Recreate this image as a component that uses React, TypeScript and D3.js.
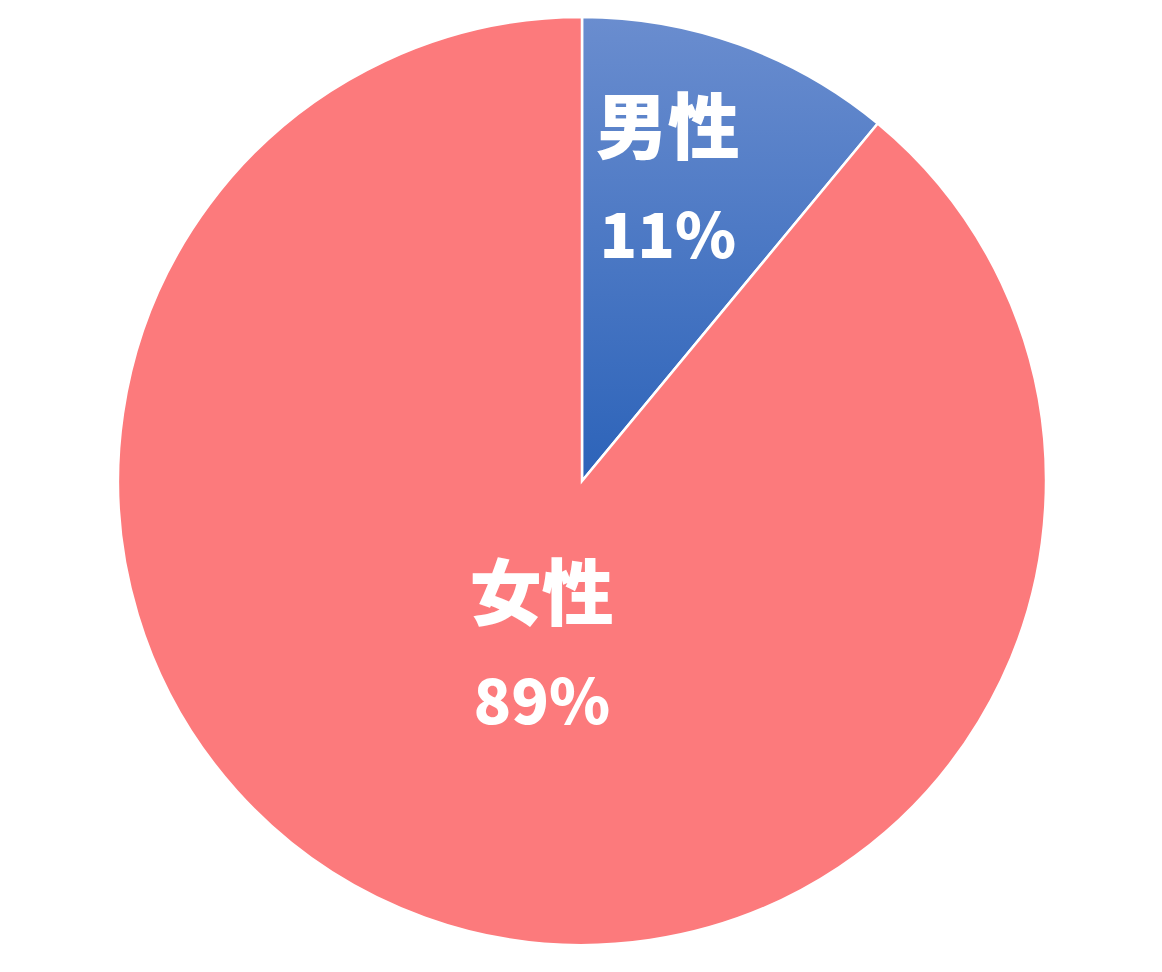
import * as d3 from 'd3'
import React, { useEffect, useRef } from "react";

const labels = ['男性', '女性'];
const shares = [11, 89];

const App: React.FC = () => {
    const ref = useRef<SVGSVGElement>(null);

    useEffect(() => {
        if (!ref.current) return;
        const width = 1162;
        const height = 972;
        const cx = 582;
        const cy = 481;
        const r = 464;

        const root = d3.select(ref.current)
            .attr('width', width)
            .attr('height', height);
        root.selectAll('*').remove();

        // gradient coords are in the slice's own (translated) space
        const defs = root.append('defs');
        const grad = defs.append('linearGradient')
            .attr('id', 'maleGrad')
            .attr('gradientUnits', 'userSpaceOnUse')
            .attr('x1', 0).attr('y1', -r)
            .attr('x2', 0).attr('y2', 0);
        grad.append('stop').attr('offset', '0%').attr('stop-color', '#6a8dcf');
        grad.append('stop').attr('offset', '100%').attr('stop-color', '#2c63b9');

        const colors = ['url(#maleGrad)', '#fc7a7c'];

        const svg = root.append('g')
            .attr('transform', `translate(${cx}, ${cy})`);

        const pie = d3.pie<number>().sort(null).value(d => d);
        const arcs = pie(shares);
        const arc = d3.arc<d3.PieArcDatum<number>>().innerRadius(0).outerRadius(r);

        svg.selectAll('path.slice')
            .data(arcs)
            .join('path')
            .attr('class', 'slice')
            .attr('d', arc)
            .attr('fill', (_, i) => colors[i])
            .attr('stroke', '#ffffff')
            .attr('stroke-width', 2.5);

        // label spots, tuned by eye
        const labelRadius = [0.66, 0.37];
        const labelShift = [[-18, -4], [18, 12]];
        arcs.forEach((a, i) => {
            const lr = labelRadius[i] * r;
            const la = d3.arc<d3.PieArcDatum<number>>().innerRadius(lr).outerRadius(lr);
            const [x, y] = la.centroid(a);
            const g = svg.append('g')
                .attr('transform', `translate(${x + labelShift[i][0]}, ${y + labelShift[i][1]})`);
            g.append('text')
                .attr('y', -36)
                .attr('text-anchor', 'middle')
                .attr('font-family', '"Noto Sans CJK JP", sans-serif')
                .attr('font-weight', 900)
                .attr('font-size', 72)
                .attr('fill', '#ffffff')
                .text(labels[i]);
            g.append('text')
                .attr('y', 69)
                .attr('text-anchor', 'middle')
                .attr('font-family', '"Noto Sans CJK JP", sans-serif')
                .attr('font-weight', 900)
                .attr('font-size', 62)
                .attr('fill', '#ffffff')
                .text(`${shares[i]}%`);
        });
    }, []);

    return (<svg ref={ref} style={{ display: 'block', position: 'absolute', left: 0, top: 0 }}></svg>);
}

export default App;
